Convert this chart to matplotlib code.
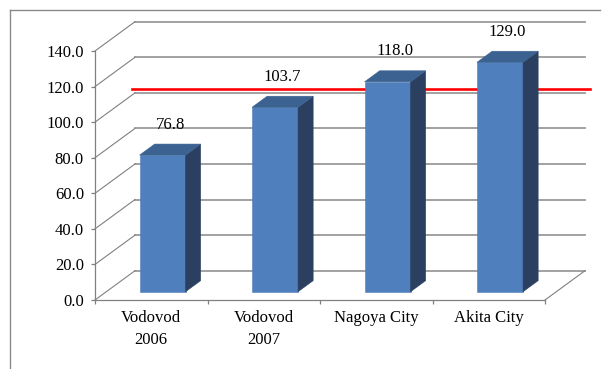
import matplotlib
matplotlib.use("Agg")
import matplotlib.pyplot as plt
from matplotlib.patches import Polygon
from matplotlib.lines import Line2D

# ---- data ----
categories = ["Vodovod\n2006", "Vodovod\n2007", "Nagoya City", "Akita City"]
values = [76.8, 103.7, 118.0, 129.0]
value_labels = ["76.8", "103.7", "118.0", "129.0"]
target = 114.2
y_ticks = [0, 20, 40, 60, 80, 100, 120, 140]

plt.rcParams['font.family'] = ['Liberation Serif', 'DejaVu Serif']

W, H = 610, 369
fig = plt.figure(figsize=(W / 100, H / 100), dpi=100)

# front plane of the 3D box
px_left, px_right, px_bottom, px_top = 95, 545, 300, 51
ax = fig.add_axes([px_left / W, (H - px_bottom) / H,
                   (px_right - px_left) / W, (px_bottom - px_top) / H])
ax.set_xlim(0, len(categories))
ax.set_ylim(0, 140)
ax.patch.set_alpha(0)

# depth projection (full depth = 40 px right, 29.3 px up)
x_per_px = len(categories) / (px_right - px_left)
y_per_px = 140 / (px_bottom - px_top)
DX = 40 * x_per_px
DY = 29.3 * y_per_px


def proj(x, y, d):
    return (x + d * DX, y + d * DY)


grid_col = '#9a9a9a'
axis_col = '#808080'
FS = 12

for s in ['top', 'right']:
    ax.spines[s].set_visible(False)
for s in ['left', 'bottom']:
    ax.spines[s].set_color(axis_col)
    ax.spines[s].set_linewidth(0.9)

ax.set_yticks(y_ticks)
ax.set_yticklabels([f"{t:.1f}" for t in y_ticks])
ax.tick_params(axis='y', length=3, width=0.9, color=axis_col, labelsize=FS, pad=5)
ax.set_xticks(range(len(categories) + 1))
ax.set_xticklabels([])
ax.set_xticks([i + 0.5 for i in range(len(categories))], minor=True)
ax.set_xticklabels(categories, minor=True, linespacing=1.55)
ax.tick_params(axis='x', which='major', length=3, width=0.9, color=axis_col)
ax.tick_params(axis='x', which='minor', length=0, labelsize=FS, pad=7)

# back wall gridlines and side-wall diagonals
n = len(categories)
for t in y_ticks:
    a = proj(0, t, 1)
    b = proj(n, t, 1)
    ax.add_line(Line2D([a[0], b[0]], [a[1], b[1]], color=grid_col, lw=1.3,
                       clip_on=False, zorder=1))
    c = proj(0, t, 0)
    ax.add_line(Line2D([c[0], a[0]], [c[1], a[1]], color=axis_col, lw=0.8,
                       clip_on=False, zorder=1))
# floor right edge
c = proj(n, 0, 0)
a = proj(n, 0, 1)
ax.add_line(Line2D([c[0], a[0]], [c[1], a[1]], color=axis_col, lw=0.8,
                   clip_on=False, zorder=1))

# bars
d0, d1 = 0.283, 0.66
bw = 46 * x_per_px
front_col, side_col, top_col = '#4F7FBC', '#2B4060', '#3C6291'
for i, v in enumerate(values):
    xl, xr = i + 0.5 - bw / 2, i + 0.5 + bw / 2
    front = [proj(xl, 0, d0), proj(xr, 0, d0), proj(xr, v, d0), proj(xl, v, d0)]
    side = [proj(xr, 0, d0), proj(xr, 0, d1), proj(xr, v, d1), proj(xr, v, d0)]
    top = [proj(xl, v, d0), proj(xr, v, d0), proj(xr, v, d1), proj(xl, v, d1)]
    for pts, col in [(front, front_col), (side, side_col), (top, top_col)]:
        ax.add_patch(Polygon(pts, closed=True, facecolor=col, edgecolor=col,
                             lw=0.4, clip_on=False, zorder=4))
    lx = proj(i + 0.5, v, (d0 + d1) / 2)[0]
    ly = proj(i + 0.5, v, d1)[1]
    ax.annotate(value_labels[i], (lx, ly), xytext=(0, 14), textcoords='offset points',
                ha='center', va='center', fontsize=FS, annotation_clip=False, zorder=5)

# red target line
r0 = proj(0.23, target, d0)
r1 = proj(4.3, target, d0)
ax.add_line(Line2D([r0[0], r1[0]], [r0[1], r1[1]], color='#FF0000', lw=1.9,
                   clip_on=False, zorder=3))

# outer frame (top and left)
fy = 1 - 10 / H
fig.add_artist(Line2D([10 / W, 600 / W], [fy, fy], transform=fig.transFigure,
                      color='#8a8a8a', lw=1.0))
fig.add_artist(Line2D([10 / W, 10 / W], [0, fy], transform=fig.transFigure,
                      color='#8a8a8a', lw=1.0))

fig.savefig("out.png", dpi=100)
